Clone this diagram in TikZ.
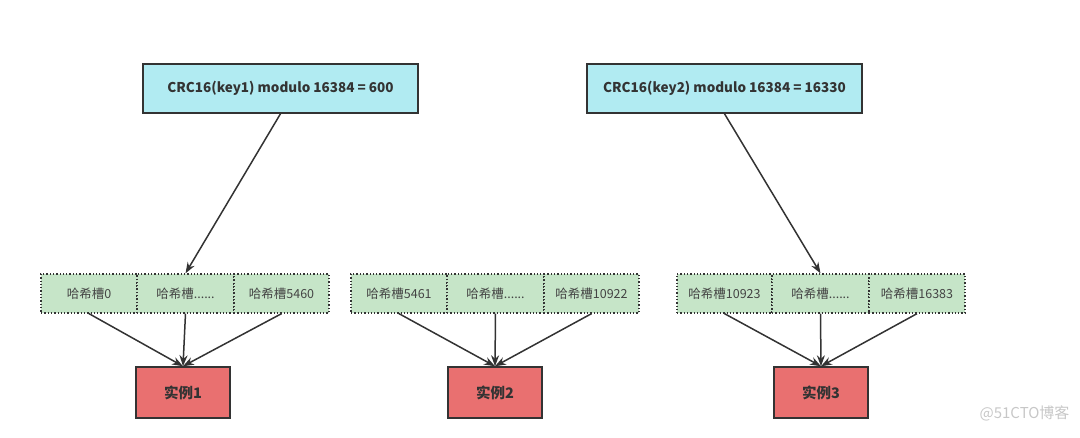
\documentclass[tikz,border=0pt]{standalone}
\usepackage{fontspec}
\setmainfont{Noto Sans CJK SC}
\usetikzlibrary{arrows.meta}
\definecolor{topfill}{HTML}{B1EBF2}
\definecolor{slotfill}{HTML}{C6E5C8}
\definecolor{instfill}{HTML}{E97070}
\definecolor{edge}{HTML}{333333}
\definecolor{slottext}{HTML}{444444}
\tikzset{
  topbox/.style={draw=edge, line width=1.5pt, fill=topfill, minimum width=275pt, minimum height=49pt, inner sep=0pt, font=\fontsize{13.5}{15}\selectfont\bfseries, text=edge},
  slotbox/.style={draw=edge, line width=1.3pt, dotted, fill=slotfill, minimum width=96pt, minimum height=39pt, inner sep=0pt, font=\fontsize{12.5}{14}\selectfont, text=slottext},
  instbox/.style={draw=edge, line width=1.5pt, fill=instfill, minimum width=94pt, minimum height=51pt, inner sep=0pt, font=\fontsize{14.5}{16}\selectfont\bfseries, text=edge},
  conn/.style={draw=edge, line width=1.5pt, -{Stealth[length=11pt,width=8pt]}},
}
\begin{document}
\begin{tikzpicture}[x=1pt,y=-1pt]
\useasboundingbox (0,0) rectangle (1080,438);
\node[topbox] (t1) at (280.5,88.5) {CRC16(key1) modulo 16384 = 600};
\node[topbox] (t2) at (724.5,88.5) {CRC16(key2) modulo 16384 = 16330};
% group 1
\node[slotbox] (s11) at (89,293.5) {哈希槽0};
\node[slotbox, minimum width=97pt] (s12) at (185.5,293.5) {哈希槽......};
\node[slotbox, minimum width=95pt] (s13) at (281.5,293.5) {哈希槽5460};
% group 2
\node[slotbox] (s21) at (399,293.5) {哈希槽5461};
\node[slotbox, minimum width=97pt] (s22) at (495.5,293.5) {哈希槽......};
\node[slotbox, minimum width=95pt] (s23) at (591.5,293.5) {哈希槽10922};
% group 3
\node[slotbox, minimum width=95pt] (s31) at (724.5,293.5) {哈希槽10923};
\node[slotbox, minimum width=97pt] (s32) at (820.5,293.5) {哈希槽......};
\node[slotbox] (s33) at (917,293.5) {哈希槽16383};
% instances
\node[instbox] (i1) at (183,392.5) {实例1};
\node[instbox] (i2) at (495,392.5) {实例2};
\node[instbox] (i3) at (821,392.5) {实例3};
% arrows
\draw[conn] (t1.south) -- (s12.north);
\draw[conn] (t2.south) -- (s32.north);
\foreach \g in {1,2,3}{
  \draw[conn] (s\g1.south) -- (i\g.north);
  \draw[conn] (s\g2.south) -- (i\g.north);
  \draw[conn] (s\g3.south) -- (i\g.north);
}
\node[font=\fontsize{15}{17}\selectfont, text=black!22, anchor=east] (wm) at (1073,413) {@51CTO博客};
\end{tikzpicture}
\end{document}
